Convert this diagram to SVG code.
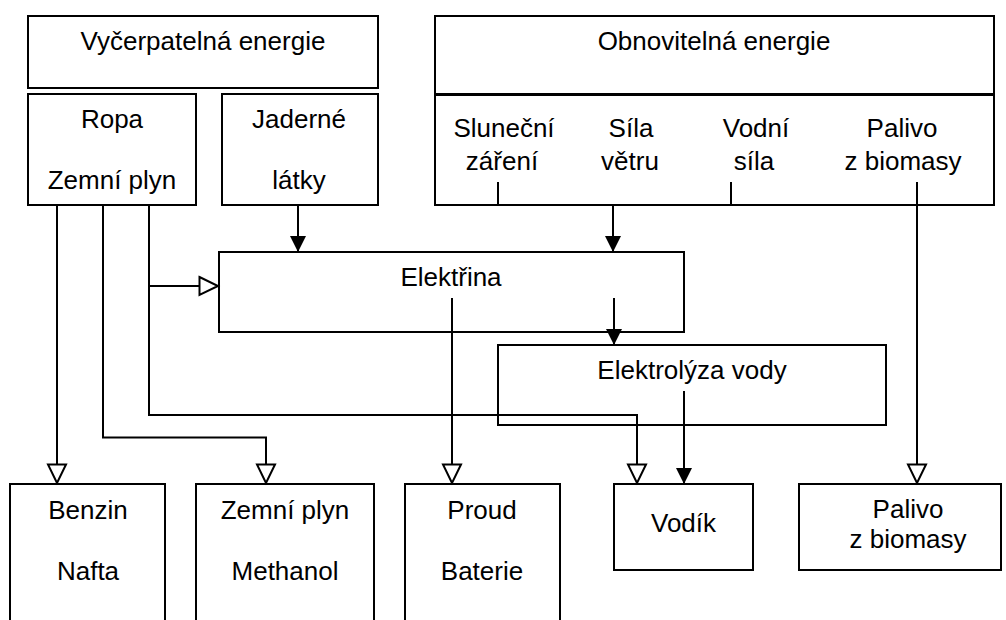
<svg xmlns="http://www.w3.org/2000/svg" width="1006" height="620" viewBox="0 0 1006 620">
<style>
.box{fill:#fff;stroke:#000;stroke-width:2}
.t{font-family:"Liberation Sans",Arial,sans-serif;font-size:26px;fill:#000;text-anchor:middle}
.c{fill:none;stroke:#000;stroke-width:2}
.h{marker-end:url(#hollow)}
.f{marker-end:url(#filled)}
</style>
<defs>
<marker id="hollow" markerUnits="userSpaceOnUse" markerWidth="24" markerHeight="24" refX="19" refY="9.5" orient="auto" overflow="visible">
<path d="M0.5,0.5 L19,9.5 L0.5,18.5 Z" fill="#fff" stroke="#000" stroke-width="2"/>
</marker>
<marker id="filled" markerUnits="userSpaceOnUse" markerWidth="20" markerHeight="20" refX="16" refY="8" orient="auto" overflow="visible">
<path d="M0,0 L16,8 L0,16 Z" fill="#000"/>
</marker>
</defs>
<rect width="1006" height="620" fill="#fff"/>
<g id="vycerpatelna">
<rect class="box" x="28" y="16" width="350" height="72"/>
<text class="t" x="203" y="50">Vyčerpatelná energie</text>
</g>
<g id="ropa">
<rect class="box" x="28" y="94" width="168" height="111"/>
<text class="t" x="112" y="128">Ropa</text>
<text class="t" x="112" y="189">Zemní plyn</text>
</g>
<g id="jaderne">
<rect class="box" x="222" y="94" width="156" height="111"/>
<text class="t" x="299" y="128">Jaderné</text>
<text class="t" x="299" y="189">látky</text>
</g>
<g id="obnovitelna">
<rect class="box" x="435" y="16" width="559" height="189"/>
<line x1="435" y1="94.5" x2="994" y2="94.5" stroke="#000" stroke-width="3"/>
<text class="t" x="714" y="50">Obnovitelná energie</text>
<text class="t" x="504" y="137">Sluneční</text>
<text class="t" x="502" y="170">záření</text>
<text class="t" x="631" y="137">Síla</text>
<text class="t" x="630" y="170">větru</text>
<text class="t" x="756" y="137">Vodní</text>
<text class="t" x="754" y="170">síla</text>
<text class="t" x="902" y="137">Palivo</text>
<text class="t" x="903" y="170">z biomasy</text>
</g>
<g id="elektrina">
<rect class="box" x="219" y="252" width="465" height="80"/>
<text class="t" x="451" y="286">Elektřina</text>
</g>
<g id="elektrolyza">
<rect class="box" x="498" y="345" width="388" height="80"/>
<text class="t" x="692" y="379">Elektrolýza vody</text>
</g>
<g id="benzin">
<rect class="box" x="10" y="484" width="155" height="150"/>
<text class="t" x="88" y="519">Benzin</text>
<text class="t" x="88" y="580">Nafta</text>
</g>
<g id="plyn">
<rect class="box" x="196" y="484" width="178" height="150"/>
<text class="t" x="285" y="519">Zemní plyn</text>
<text class="t" x="285" y="580">Methanol</text>
</g>
<g id="proud">
<rect class="box" x="405" y="484" width="155" height="150"/>
<text class="t" x="482" y="519">Proud</text>
<text class="t" x="482" y="580">Baterie</text>
</g>
<g id="vodik">
<rect class="box" x="614" y="484" width="139" height="86"/>
<text class="t" x="683.5" y="532">Vodík</text>
</g>
<g id="palivo">
<rect class="box" x="799" y="484" width="202" height="86"/>
<text class="t" x="908" y="518">Palivo</text>
<text class="t" x="908" y="548">z biomasy</text>
</g>
<g id="connectors">
<path class="c h" d="M57,205 V483"/>
<path class="c h" d="M103,205 V437.5 H266 V483"/>
<path class="c h" d="M149,205 V415 H637 V483"/>
<path class="c h" d="M149,286 H218"/>
<path class="c f" d="M298,205 V252"/>
<path class="c" d="M498,182 V205 H731 V182"/>
<path class="c f" d="M613,205 V252"/>
<path class="c h" d="M917,182 V483"/>
<path class="c h" d="M452,298 V483"/>
<path class="c f" d="M614,298 V345"/>
<path class="c f" d="M684,391 V484"/>
</g>
</svg>
